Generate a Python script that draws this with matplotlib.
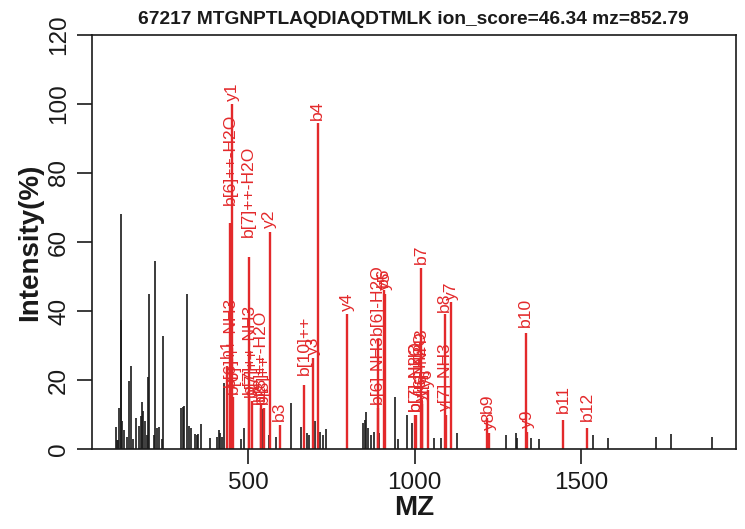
import matplotlib
matplotlib.use("Agg")
import matplotlib.pyplot as plt

plt.rcParams['font.family'] = ['Liberation Sans', 'DejaVu Sans']

title = "67217 MTGNPTLAQDIAQDTMLK ion_score=46.34 mz=852.79"

# unannotated peaks
other_mz = [101.3, 105.2, 108.2, 112.1, 116.3, 118.1, 121.1, 126.2, 136.2, 142.2,
            146.4, 154.2, 160.8, 171.3, 176.4, 181.2, 184.2, 189.4, 194.5, 199.5,
            201.5, 216.4, 219.4, 224.5, 229.9, 238.9, 244.4, 297.6, 302.7, 307.5,
            314.7, 320.1, 327.6, 339.6, 344.8, 349.6, 356.8, 383.2, 404.9, 410.9,
            415.7, 421.7, 427.7, 477.0, 487.0, 512.0, 542.5, 560.6, 583.0, 626.7,
            658.3, 677.2, 683.2, 700.3, 710.3, 715.4, 723.5, 733.4, 845.5, 850.6,
            853.6, 861.1, 867.7, 877.7, 893.6, 910.7, 940.8, 948.9, 976.0, 991.0,
            1058.9, 1077.6, 1126.3, 1274.4, 1303.9, 1308.4, 1349.6, 1374.2, 1536.8,
            1581.0, 1724.4, 1770.4, 1893.6]
other_int = [6.5, 2.5, 2.6, 12.0, 37.4, 68.0, 8.0, 5.5, 3.6, 19.7,
             24.0, 3.0, 9.0, 6.7, 9.6, 13.6, 11.0, 8.0, 4.0, 21.0,
             45.0, 4.0, 54.6, 6.2, 6.5, 3.0, 32.8, 11.8, 12.3, 12.5,
             45.0, 6.6, 6.0, 4.3, 4.0, 4.3, 7.2, 3.3, 3.5, 5.4,
             4.7, 3.4, 19.0, 3.0, 6.0, 9.4, 11.5, 4.0, 3.6, 13.4,
             6.5, 4.6, 4.0, 8.0, 5.5, 5.0, 4.0, 5.8, 7.5, 8.4,
             10.8, 6.0, 4.0, 5.0, 4.6, 13.0, 15.2, 2.9, 9.9, 7.6,
             3.3, 3.3, 4.6, 4.0, 4.5, 3.1, 3.2, 3.0, 4.0,
             3.1, 3.4, 4.3, 3.4]

# annotated (matched) fragment ions
ion_labels = ["b1", "b[6]++-NH3", "b[6]++-H2O", "y1", "b[6]++",
              "b[7]++-H2O", "b[7]++-NH3", "b[7]++", "b2", "b[8]++-H2O", "b[8]++",
              "y2", "b3", "b[10]++", "y3", "b4", "y4",
              "b[6]-H2O", "b[6]-NH3", "b6", "y5",
              "b[7]-H2O", "b[7]-NH3", "b7", "y[6]-H2O", "y[6]-NH3", "y6",
              "b8", "y[7]-NH3", "y7", "b9", "y8", "b10", "y9", "b11", "b12"]
ion_mz = [436.25, 445.22, 444.73, 451.32, 453.74,
          501.27, 501.77, 510.28, 537.30, 536.79, 545.80,
          564.40, 594.32, 667.34, 695.44, 708.37, 796.49,
          888.45, 889.44, 906.47, 911.52,
          1001.54, 1002.52, 1019.55, 1021.57, 1022.55, 1039.58,
          1090.59, 1093.59, 1110.61, 1218.65, 1223.70, 1333.67, 1338.72, 1446.76, 1517.79]
ion_int = [24.0, 17.0, 65.5, 100.0, 15.0,
           55.7, 15.0, 14.0, 12.0, 13.0, 12.0,
           63.0, 7.0, 18.5, 26.5, 94.5, 39.0,
           32.0, 12.0, 46.0, 45.0,
           10.0, 10.0, 52.5, 13.0, 14.0, 17.0,
           39.2, 10.0, 42.5, 9.0, 4.5, 33.5, 5.0, 8.5, 6.0]

# label lift above each peak (layout only)
label_pad = [2.5, 1.0, 5.2, 1.0, 1.0,
             5.7, 1.0, 1.0, 1.0, 1.0, 1.0,
             1.0, 1.0, 3.0, 0.7, 1.0, 1.0,
             1.0, 1.0, 1.0, 1.0,
             1.0, 1.0, 1.0, 1.0, 1.0, 1.0,
             0.5, 1.0, 0.8, 1.4, 1.0, 2.0, 1.0, 1.8, 2.0]

x_ticks = [500, 1000, 1500]
y_ticks = [0, 20, 40, 60, 80, 100, 120]

RED = '#e3292b'
INK = '#1a1a1a'

fig = plt.figure(figsize=(7.45, 5.29), dpi=100)
ax = fig.add_axes([91.7 / 745, 1 - 449 / 529, 644 / 745, 414 / 529])

ax.vlines(other_mz, 0, other_int, colors=INK, linewidth=1.2)
ax.vlines(ion_mz, 0, ion_int, colors=RED, linewidth=1.7)
for m, v, lab, p in zip(ion_mz, ion_int, ion_labels, label_pad):
    ax.text(m, v + p, lab, rotation=90, ha='center', va='bottom',
            color=RED, fontsize=12.6)

ax.set_xlim(29, 1965)
ax.set_ylim(0, 120)
ax.set_xticks(x_ticks)
ax.set_yticks(y_ticks)
ax.tick_params(axis='both', length=10.5, width=1.2, labelsize=17.5, colors=INK)
ax.tick_params(axis='x', pad=6)
ax.tick_params(axis='y', pad=5)
for t in ax.get_yticklabels():
    t.set_rotation(90)
    t.set_va('center')
for s in ax.spines.values():
    s.set_linewidth(1.2)
    s.set_color(INK)

ax.set_xlabel('MZ', fontsize=20, fontweight='bold', color=INK)
ax.set_ylabel('Intensity(%)', fontsize=20, fontweight='bold', color=INK)
ax.xaxis.set_label_coords(0.5, -0.112)
ax.yaxis.set_label_coords(-0.0756, 0.5)
ax.text(0.5, 1 + 11 / 414, title, transform=ax.transAxes, ha='center',
        va='baseline', fontsize=13.8, fontweight='bold', color=INK)

fig.savefig('out.png', dpi=100)
